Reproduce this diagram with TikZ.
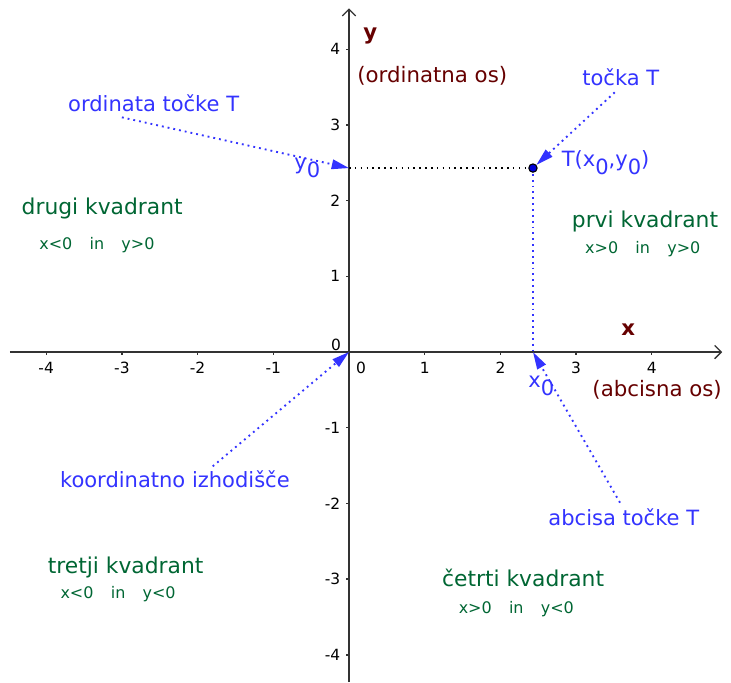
\documentclass[tikz,border=0pt]{standalone}
\usepackage{fontspec}
\setmainfont{DejaVu Sans}
\usetikzlibrary{arrows.meta}
\definecolor{labelblue}{RGB}{51,51,255}
\definecolor{axisred}{RGB}{102,0,0}
\definecolor{quadgreen}{RGB}{0,102,51}
\newcommand{\lowsub}[1]{\raisebox{-0.7ex}{#1}}
\newcommand{\gap}{\hspace{6.5pt}}

\begin{document}
\begin{tikzpicture}[
    axis/.style={draw=black!80, line width=0.5pt},
    ticklabel/.style={font=\fontsize{5.8}{7}\selectfont, inner sep=0pt},
    pointer/.style={labelblue, line width=0.7pt, dash pattern=on 0.7pt off 1.5pt, -{Triangle[length=6.5pt,width=3.6pt]}},
    bluelabel/.style={text=labelblue, font=\fontsize{7.9}{9}\selectfont, inner sep=0pt},
    axislabel/.style={text=axisred, font=\fontsize{8}{9}\selectfont, inner sep=0pt},
    quadname/.style={text=quadgreen, font=\fontsize{8.2}{9}\selectfont, inner sep=0pt},
    quadsign/.style={text=quadgreen, font=\fontsize{6}{7}\selectfont, inner sep=0pt}
  ]
  \useasboundingbox (-4.61,-4.36) rectangle (5.046,4.65);

  % Axes
  \coordinate (O) at (0,0);
  \coordinate (xbeg) at (-4.48,0);
  \coordinate (xend) at (4.93,0);
  \coordinate (ybeg) at (0,-4.36);
  \coordinate (yend) at (0,4.54);
  \draw[axis, -{Straight Barb[length=2.5pt,width=5pt]}] (xbeg) -- (xend);
  \draw[axis, -{Straight Barb[length=2.5pt,width=5pt]}] (ybeg) -- (yend);

  % Ticks and numbers
  \foreach \k in {-4,-3,-2,-1,1,2,3,4} {
    \draw[axis] (\k,0) -- (\k,-0.04);
    \node[ticklabel] at (\k,-0.21) {\k};
    \draw[axis] (0,\k) -- (-0.04,\k);
    \node[ticklabel, anchor=east] at (-0.11,\k) {\k};
  }
  \node[ticklabel] at (0.16,-0.21) {0};
  \node[ticklabel] at (-0.17,0.09) {0};

  % Axis names
  \node[axislabel, font=\fontsize{8}{9}\selectfont\bfseries] at (0.28,4.17) {y};
  \node[axislabel] at (1.10,3.65) {(ordinatna os)};
  \node[axislabel, font=\fontsize{8}{9}\selectfont\bfseries] at (3.69,0.30) {x};
  \node[axislabel] at (4.07,-0.50) {(abcisna os)};

  % Point T and its projections
  \coordinate (xT) at (2.43,0);
  \coordinate (yT) at (0,2.43);
  \draw[black, line width=0.6pt, dash pattern=on 0.6pt off 1.6pt] (yT) -- (2.43,2.43);
  \draw[labelblue, line width=0.7pt, dash pattern=on 0.7pt off 1.5pt] (2.43,2.43) -- (xT);
  \node[circle, draw=black, fill=blue!85!black, line width=0.4pt, inner sep=0pt, minimum size=0.11cm] (T) at (2.43,2.43) {};

  % Pointers with their labels
  \coordinate (ordStart) at (-3.0,3.1);
  \coordinate (tockaStart) at (3.51,3.43);
  \coordinate (izhStart) at (-1.80,-1.51);
  \coordinate (absStart) at (3.58,-1.99);
  \draw[pointer] (ordStart) -- (yT);
  \draw[pointer] (tockaStart) -- (T);
  \draw[pointer] (izhStart) -- (O);
  \draw[pointer] (absStart) -- (xT);

  \node[bluelabel] at (-2.58,3.28) {ordinata točke T};
  \node[bluelabel] at (-0.55,2.43) {y\lowsub{0}};
  \node[bluelabel] at (3.59,3.63) {točka T};
  \node[bluelabel] at (3.39,2.50) {T(x\lowsub{0},y\lowsub{0})};
  \node[bluelabel] at (-2.30,-1.68) {koordinatno izhodišče};
  \node[bluelabel] at (3.63,-2.18) {abcisa točke T};
  \node[bluelabel] at (2.54,-0.45) {x\lowsub{0}};

  % Quadrants
  \node[quadname] at (-3.26,1.89) {drugi kvadrant};
  \node[quadsign] at (-3.33,1.41) {x<0\gap in\gap y>0};
  \node[quadname] at (3.91,1.73) {prvi kvadrant};
  \node[quadsign] at (3.88,1.36) {x>0\gap in\gap y>0};
  \node[quadname] at (-2.95,-2.84) {tretji kvadrant};
  \node[quadsign] at (-3.05,-3.20) {x<0\gap in\gap y<0};
  \node[quadname] at (2.30,-2.99) {četrti kvadrant};
  \node[quadsign] at (2.21,-3.39) {x>0\gap in\gap y<0};
\end{tikzpicture}
\end{document}
